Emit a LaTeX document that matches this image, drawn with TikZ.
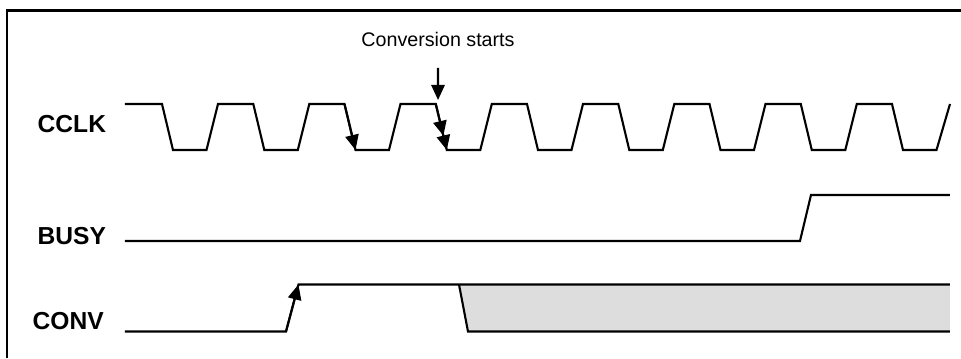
\documentclass[tikz,border=0pt]{standalone}
\usepackage{fontspec}
\setmainfont{Liberation Sans}
\usetikzlibrary{arrows.meta}
\definecolor{convgrey}{HTML}{DDDDDD}
\begin{document}
\begin{tikzpicture}[scale=0.1,
        wave/.style={black, line width=0.6pt},
        edgetip/.style={-{Triangle[length=4.3pt,width=3.8pt]}},
        twotips/.style={-{Triangle[length=4.2pt,width=3.8pt]Triangle[length=4.2pt,width=3.8pt]}},
        signame/.style={anchor=west, font=\fontsize{7}{8}\selectfont\bfseries}]
        \tikzstyle{every node}+=[inner sep=0pt]
        \useasboundingbox (0,0) rectangle (96.1,-35.8);
        \draw [black, line width=0.75pt] (0.7,-35.8) -- (0.7,-1.03) -- (96.1,-1.03);
        \node [signame] (cclk) at (3.7,-12.4) {CCLK};
        \node [signame] (busy) at (3.7,-23.6) {BUSY};
        \node [signame] (conv) at (3.2,-32.1) {CONV};
        \node [font=\fontsize{5.6}{6.5}\selectfont] (convlabel) at (43.8,-3.9) {Conversion starts};
        \coordinate (convstart) at (43.8,-10.0);
        \draw [wave, edgetip, shorten <=2.1mm] (convlabel) -- (convstart);
        \draw [wave] (12.5,-10.4) -- (16.2,-10.4) -- (17.3,-15) -- (20.65,-15) -- (21.8,-10.4)
            -- (25.33,-10.4) -- (26.43,-15) -- (29.78,-15) -- (30.93,-10.4)
            -- (34.45,-10.4) -- (35.55,-15) -- (38.9,-15) -- (40.05,-10.4)
            -- (43.58,-10.4) -- (44.68,-15) -- (48.03,-15) -- (49.18,-10.4)
            -- (52.7,-10.4) -- (53.8,-15) -- (57.15,-15) -- (58.3,-10.4)
            -- (61.83,-10.4) -- (62.93,-15) -- (66.28,-15) -- (67.43,-10.4)
            -- (70.95,-10.4) -- (72.05,-15) -- (75.4,-15) -- (76.55,-10.4)
            -- (80.08,-10.4) -- (81.18,-15) -- (84.53,-15) -- (85.68,-10.4)
            -- (89.2,-10.4) -- (90.3,-15) -- (93.65,-15) -- (95,-10.4);
        \draw [wave, edgetip] (34.45,-10.4) -- (35.55,-15);
        \draw [wave, twotips] (43.58,-10.4) -- (44.68,-15);
        \draw [wave] (12.5,-24.1) -- (80,-24.1) -- (81.1,-19.5) -- (95,-19.5);
        \fill [convgrey] (45.9,-28.45) -- (46.8,-33.15) -- (95,-33.15) -- (95,-28.45) -- cycle;
        \draw [wave] (12.5,-33.15) -- (28.6,-33.15) -- (29.85,-28.45) -- (95,-28.45);
        \draw [wave] (45.9,-28.45) -- (46.8,-33.15) -- (95,-33.15);
        \draw [wave, edgetip] (28.6,-33.15) -- (29.85,-28.45);
        \end{tikzpicture}
\end{document}
